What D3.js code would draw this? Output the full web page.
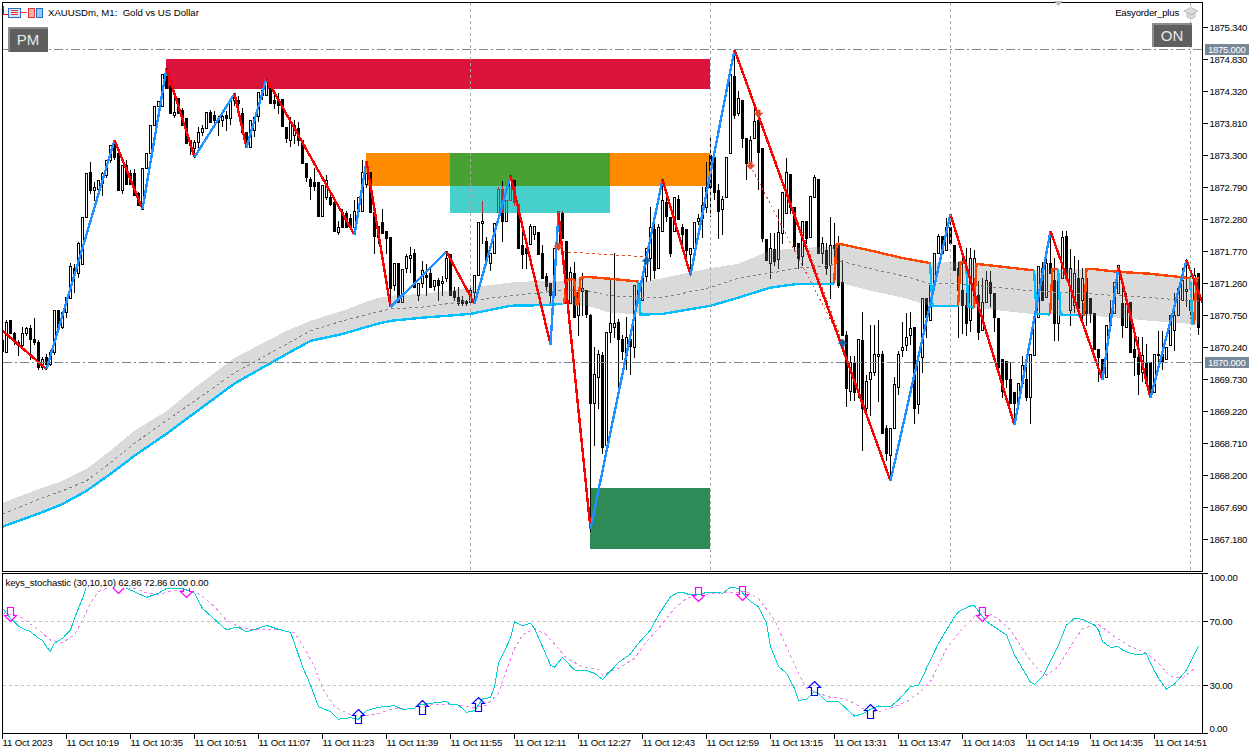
<!DOCTYPE html>
<html><head><meta charset="utf-8">
<style>html,body{margin:0;padding:0;background:#fff;overflow:hidden}svg{display:block}text{font-family:"Liberation Sans",Arial,sans-serif;font-size:9.6px;fill:#000}</style>
<script src="https://d3js.org/d3.v7.min.js"></script>
</head><body>
<svg id="c" width="1260" height="752"></svg>
<script>
// candles: [open, high, low, close]  — one minute each, starting 10:03
const bars1003=[[1870.35,1870.43,1870.11,1870.18],[1870.16,1870.67,1870.16,1870.65],[1870.67,1870.67,1870.46,1870.46],[1870.46,1870.49,1870.30,1870.35],[1870.32,1870.35,1870.11,1870.27],[1870.27,1870.56,1870.24,1870.46],[1870.46,1870.56,1870.43,1870.54],[1870.54,1870.59,1870.06,1870.38],[1870.38,1870.70,1870.30,1870.33],[1870.32,1870.35,1869.90,1869.92],
[1869.92,1870.08,1869.90,1870.06],[1870.08,1870.14,1869.90,1869.97],[1869.97,1870.19,1869.95,1870.16],[1870.16,1870.84,1870.14,1870.84],[1870.84,1870.84,1870.57,1870.57],[1870.56,1870.80,1870.54,1870.80],[1870.80,1871.04,1870.73,1871.04],[1871.02,1871.58,1871.02,1871.53],[1871.51,1871.56,1871.12,1871.43],[1871.42,1871.92,1871.36,1871.90],
[1871.56,1872.31,1871.56,1872.31],[1872.31,1873.01,1872.31,1873.01],[1873.03,1873.19,1872.70,1872.74],[1872.74,1872.87,1872.58,1872.79],[1872.76,1872.90,1872.68,1872.90],[1872.86,1873.03,1872.66,1873.01],[1872.98,1873.22,1872.95,1873.22],[1873.22,1873.46,1873.19,1873.46],[1873.51,1873.55,1873.24,1873.27],[1873.33,1873.38,1872.74,1872.74],
[1872.74,1873.14,1872.70,1873.14],[1873.14,1873.22,1872.85,1872.85],[1873.01,1873.07,1872.85,1872.85],[1873.01,1873.08,1872.66,1872.66],[1872.70,1872.72,1872.50,1872.50],[1872.45,1873.09,1872.45,1873.09],[1873.09,1873.33,1873.09,1873.33],[1873.33,1873.78,1873.33,1873.78],[1873.78,1874.08,1873.78,1874.08],[1874.08,1874.16,1874.08,1874.16],
[1874.08,1874.59,1874.08,1874.59],[1874.65,1874.69,1874.37,1874.37],[1874.41,1874.41,1873.97,1873.97],[1873.94,1874.22,1873.91,1873.99],[1874.22,1874.22,1873.97,1873.97],[1874.02,1874.05,1873.78,1873.78],[1873.90,1873.90,1873.49,1873.49],[1873.54,1873.54,1873.32,1873.46],[1873.41,1873.54,1873.28,1873.51],[1873.51,1873.75,1873.38,1873.67],
[1873.67,1873.78,1873.62,1873.73],[1873.73,1873.99,1873.73,1873.99],[1873.99,1874.02,1873.83,1873.83],[1873.94,1874.00,1873.75,1873.86],[1873.89,1873.92,1873.62,1873.83],[1873.86,1873.95,1873.77,1873.92],[1873.94,1874.00,1873.70,1873.89]];
const bars1100=[[1873.89,1874.18,1873.80,1874.18],[1874.18,1874.29,1874.10,1874.29],[1874.18,1874.25,1874.05,1874.13],[1873.97,1874.05,1873.67,1873.67],[1873.67,1873.67,1873.43,1873.43],[1873.43,1873.86,1873.43,1873.86],[1873.70,1873.91,1873.60,1873.91],[1873.93,1874.31,1873.85,1874.31],[1874.26,1874.34,1874.20,1874.34],[1874.26,1874.53,1874.26,1874.53],
[1874.37,1874.40,1874.14,1874.14],[1874.18,1874.29,1874.06,1874.14],[1874.18,1874.30,1873.97,1874.10],[1874.19,1874.19,1873.76,1873.76],[1873.75,1873.75,1873.51,1873.57],[1873.55,1873.91,1873.45,1873.83],[1873.62,1873.86,1873.49,1873.78],[1873.73,1873.83,1873.46,1873.54],[1873.54,1873.54,1873.17,1873.17],[1873.17,1873.17,1872.89,1872.95],
[1872.93,1872.95,1872.60,1872.81],[1872.87,1873.09,1872.75,1872.81],[1872.87,1872.87,1872.34,1872.34],[1872.34,1872.82,1872.34,1872.82],[1872.63,1872.98,1872.60,1872.90],[1872.63,1872.73,1872.50,1872.53],[1872.55,1872.55,1872.10,1872.10],[1872.07,1872.25,1872.04,1872.15],[1872.39,1872.45,1872.15,1872.15],[1872.38,1872.42,1872.15,1872.15],
[1872.30,1872.36,1872.12,1872.15],[1872.15,1872.58,1872.04,1872.42],[1872.42,1872.63,1872.40,1872.63],[1872.41,1873.22,1872.41,1873.03],[1872.85,1873.01,1872.80,1873.01],[1873.03,1873.03,1872.39,1872.39],[1872.39,1872.39,1871.75,1872.02],[1872.18,1872.18,1871.90,1871.99],[1872.23,1872.44,1872.06,1872.06],[1872.10,1872.10,1871.75,1871.98],
[1871.99,1871.99,1870.94,1871.18],[1871.23,1871.59,1871.15,1871.59],[1871.58,1871.58,1870.96,1870.96],[1870.96,1871.48,1870.96,1871.48],[1871.50,1871.72,1871.44,1871.69],[1871.67,1871.84,1871.44,1871.71],[1871.74,1871.80,1871.20,1871.20],[1871.07,1871.26,1871.00,1871.26],[1871.26,1871.62,1871.20,1871.47],[1871.40,1871.56,1871.07,1871.36],
[1871.42,1871.50,1871.20,1871.20],[1871.21,1871.31,1871.15,1871.31],[1871.32,1871.35,1871.00,1871.23],[1871.26,1871.37,1871.07,1871.29],[1871.34,1871.77,1871.30,1871.67],[1871.72,1871.72,1871.08,1871.08],[1871.13,1871.20,1871.00,1871.04],[1871.04,1871.20,1870.91,1870.94],[1870.99,1871.05,1870.92,1870.94],[1870.97,1871.00,1870.91,1870.94]];
const bars1200=[[1870.96,1871.20,1870.94,1871.16],[1871.12,1871.40,1870.94,1871.40],[1871.40,1872.23,1871.40,1872.23],[1872.22,1872.57,1871.91,1872.25],[1871.94,1872.00,1871.60,1871.63],[1871.59,1871.75,1871.47,1871.75],[1871.74,1872.22,1871.74,1872.22],[1872.39,1872.80,1872.39,1872.76],[1872.77,1872.89,1871.94,1872.26],[1872.26,1872.58,1872.26,1872.58],
[1872.58,1872.98,1872.58,1872.93],[1872.90,1872.90,1872.50,1872.55],[1872.53,1872.53,1871.83,1871.83],[1871.87,1872.18,1871.50,1871.72],[1871.83,1871.90,1871.50,1871.74],[1871.88,1872.20,1871.88,1872.17],[1872.04,1872.17,1871.96,1872.17],[1872.07,1872.07,1871.72,1871.72],[1871.74,1871.87,1871.35,1871.35],[1871.37,1871.42,1871.15,1871.21],
[1871.26,1871.26,1870.94,1871.07],[1871.08,1871.83,1871.08,1871.83],[1871.83,1872.42,1871.83,1872.42],[1872.38,1872.42,1871.98,1871.98],[1871.93,1871.93,1870.94,1870.94],[1870.94,1871.52,1870.94,1871.44],[1871.42,1871.60,1870.72,1870.72],[1870.75,1871.20,1870.43,1871.12],[1871.13,1871.43,1870.75,1871.18],[1871.16,1871.16,1870.73,1870.77],
[1870.75,1870.77,1867.32,1869.35],[1869.36,1870.24,1868.68,1869.81],[1869.76,1870.20,1869.28,1870.14],[1870.11,1870.16,1868.55,1868.65],[1868.68,1870.48,1868.68,1870.48],[1870.49,1871.31,1870.32,1870.62],[1870.57,1871.74,1870.40,1870.62],[1870.65,1870.69,1869.59,1870.37],[1870.38,1870.43,1870.06,1870.18],[1870.11,1870.72,1869.90,1870.40],
[1870.38,1870.45,1869.82,1870.26],[1870.24,1871.24,1870.08,1871.24],[1871.26,1871.30,1870.99,1870.99],[1870.99,1871.35,1870.99,1871.35],[1871.37,1871.83,1871.30,1871.83],[1871.67,1872.47,1871.31,1872.15],[1872.12,1872.20,1871.34,1871.47],[1871.51,1872.20,1871.51,1872.15],[1872.09,1872.92,1872.09,1872.58],[1872.55,1872.65,1872.25,1872.33],
[1872.31,1872.31,1871.70,1871.75],[1872.09,1872.63,1872.09,1872.63],[1872.61,1872.66,1872.28,1872.28],[1872.15,1872.20,1871.90,1872.04],[1872.12,1872.12,1871.70,1871.79],[1871.73,1871.82,1871.40,1871.82],[1871.82,1872.23,1871.82,1872.23],[1872.25,1872.37,1872.20,1872.30],[1872.30,1872.80,1872.00,1872.50],[1872.47,1873.20,1872.40,1872.79]];
const bars1300=[[1873.30,1873.60,1872.34,1872.79],[1873.27,1873.30,1872.60,1872.71],[1872.74,1872.85,1871.98,1872.42],[1872.44,1872.65,1872.05,1872.61],[1872.63,1873.28,1872.63,1873.28],[1873.33,1874.59,1873.33,1874.59],[1874.57,1874.99,1873.89,1873.94],[1873.97,1874.33,1873.95,1874.21],[1874.18,1874.18,1873.44,1873.57],[1873.57,1873.57,1872.93,1873.17],
[1873.20,1873.60,1873.10,1873.55],[1873.57,1874.06,1873.57,1873.84],[1873.86,1873.86,1872.77,1873.36],[1873.41,1873.41,1871.94,1871.98],[1871.96,1871.96,1871.63,1871.63],[1871.59,1872.06,1871.35,1871.82],[1871.80,1872.06,1871.55,1871.61],[1871.64,1872.45,1871.50,1872.07],[1872.06,1872.71,1871.90,1872.71],[1872.38,1873.25,1872.38,1873.03],
[1873.00,1873.00,1872.38,1872.47],[1872.47,1872.47,1871.80,1871.85],[1871.90,1871.90,1871.51,1871.67],[1871.69,1872.26,1871.55,1872.26],[1872.25,1872.25,1871.90,1871.98],[1871.99,1872.65,1871.99,1872.65],[1872.63,1872.98,1872.63,1872.95],[1872.92,1872.92,1871.74,1871.74],[1871.75,1872.00,1871.58,1871.91],[1871.79,1871.91,1871.41,1871.51],
[1871.55,1872.31,1871.02,1871.87],[1871.87,1872.22,1871.47,1871.83],[1871.87,1872.02,1871.20,1871.23],[1871.28,1871.63,1870.43,1870.43],[1870.43,1870.50,1869.31,1869.59],[1869.55,1870.10,1869.40,1870.00],[1870.00,1870.10,1869.40,1869.52],[1869.55,1870.38,1869.45,1870.38],[1870.35,1870.80,1868.60,1869.27],[1869.28,1869.80,1869.20,1869.71],
[1869.74,1870.59,1869.16,1869.84],[1869.84,1870.60,1869.80,1870.14],[1870.10,1870.67,1869.39,1870.13],[1870.14,1870.18,1868.88,1868.88],[1868.95,1869.00,1868.45,1868.55],[1868.52,1868.95,1868.12,1868.95],[1868.96,1869.76,1868.96,1869.65],[1869.60,1870.18,1869.50,1870.14],[1870.19,1870.64,1870.10,1870.25],[1870.27,1870.78,1870.20,1870.41],
[1870.43,1870.80,1870.30,1870.54],[1870.57,1870.57,1869.03,1869.28],[1869.33,1870.02,1869.20,1870.02],[1870.08,1871.02,1869.85,1871.02],[1871.02,1871.02,1870.40,1870.73],[1870.67,1871.30,1870.67,1871.23],[1871.23,1871.74,1871.23,1871.74],[1871.74,1872.05,1871.74,1872.02],[1872.02,1872.02,1871.75,1871.75],[1871.79,1872.30,1871.79,1872.15]];
const bars1400=[[1872.15,1872.37,1871.90,1871.90],[1871.87,1871.87,1871.47,1871.47],[1871.50,1871.60,1870.40,1871.15],[1871.15,1871.75,1870.46,1870.91],[1870.91,1871.82,1870.43,1870.62],[1870.67,1871.82,1870.50,1871.67],[1871.07,1871.79,1870.90,1871.67],[1871.07,1871.30,1870.38,1870.48],[1870.51,1871.34,1870.51,1870.96],[1870.96,1871.45,1870.96,1871.31],
[1871.28,1871.45,1870.90,1871.10],[1871.10,1871.10,1870.50,1870.72],[1870.70,1870.70,1869.92,1869.92],[1870.06,1870.06,1869.45,1869.55],[1870.02,1870.02,1869.60,1869.74],[1869.74,1870.00,1869.36,1869.36],[1869.52,1869.52,1869.01,1869.36],[1869.36,1869.67,1869.36,1869.67],[1869.67,1870.10,1869.67,1869.95],[1869.73,1870.05,1869.40,1869.44],
[1869.44,1870.14,1869.03,1870.14],[1870.11,1870.72,1870.11,1870.72],[1870.72,1871.53,1870.72,1871.53],[1871.51,1871.60,1870.99,1870.99],[1871.04,1871.80,1871.04,1871.58],[1871.59,1872.10,1871.42,1871.42],[1871.31,1871.66,1870.35,1870.62],[1870.62,1871.31,1870.35,1871.31],[1871.34,1872.10,1871.34,1871.99],[1872.01,1872.10,1871.35,1871.35],
[1870.83,1871.80,1870.60,1871.50],[1870.91,1871.70,1870.80,1871.42],[1871.35,1871.63,1870.75,1870.86],[1870.99,1871.50,1870.60,1871.34],[1871.34,1871.45,1870.60,1870.78],[1871.02,1871.02,1870.65,1870.78],[1870.78,1870.78,1870.22,1870.22],[1870.22,1870.22,1869.71,1870.08],[1870.06,1870.06,1869.73,1869.76],[1869.76,1870.59,1869.76,1870.59],
[1870.59,1871.00,1870.59,1870.78],[1870.78,1871.28,1870.78,1871.28],[1871.10,1871.55,1871.10,1871.55],[1870.94,1871.30,1870.40,1870.59],[1870.56,1871.10,1870.56,1870.94],[1870.96,1870.96,1870.16,1870.16],[1870.22,1870.50,1869.80,1870.08],[1870.08,1870.40,1869.50,1869.82],[1869.84,1870.40,1869.70,1870.11],[1870.00,1870.30,1869.67,1869.67],
[1870.00,1870.00,1869.44,1869.47],[1869.52,1870.14,1869.52,1870.14],[1870.13,1870.50,1869.90,1870.14],[1870.14,1870.50,1869.90,1870.00],[1870.06,1870.25,1870.06,1870.25],[1870.27,1870.75,1870.27,1870.75],[1870.51,1871.10,1870.20,1870.75],[1870.75,1871.18,1870.75,1871.18],[1870.99,1871.50,1870.99,1871.31],[1871.13,1871.64,1870.90,1871.17]];
const bars1500=[[1870.99,1871.40,1870.70,1870.83],[1870.99,1871.50,1870.80,1871.39],[1871.42,1871.42,1870.45,1870.56]];
const candles=[...bars1003,...bars1100,...bars1200,...bars1300,...bars1400,...bars1500];

// zigzag swing points
const zigIdx=[0,11,28,35,41,48,58,61,66,88,91,97,111,118,127,137,139,147,165,172,183,222,237,253,262,275,279,287,296,300];
const zigPrice=[1870.51,1869.90,1873.55,1872.45,1874.69,1873.28,1874.29,1873.43,1874.53,1872.04,1873.22,1870.89,1871.77,1870.94,1872.98,1870.29,1872.39,1867.35,1872.92,1871.40,1874.99,1868.12,1872.37,1869.01,1872.10,1869.73,1871.53,1869.44,1871.64,1870.96];

// moving-average channel
const bandIdx=[0,10,15,21,27,33,41,48,58,71,77,85,93,97,105,117,127,135,140,146,152,160,165,177,184,192,199,207,209,217,225,232,239,257,264,272,279,287,297,299];
const bandTop=[1867.77,1868.01,1868.12,1868.31,1868.60,1868.92,1869.23,1869.60,1870.08,1870.51,1870.67,1870.83,1871.02,1871.07,1871.10,1871.20,1871.28,1871.31,1871.31,1871.37,1871.34,1871.29,1871.35,1871.51,1871.58,1871.79,1871.83,1871.85,1871.90,1871.79,1871.67,1871.59,1871.61,1871.48,1871.50,1871.50,1871.45,1871.42,1871.35,1871.35];
const bandMid=[1867.59,1867.85,1867.96,1868.12,1868.41,1868.72,1869.08,1869.39,1869.84,1870.30,1870.51,1870.67,1870.80,1870.86,1870.89,1870.99,1871.07,1871.12,1871.16,1871.15,1871.07,1871.04,1871.04,1871.20,1871.35,1871.43,1871.51,1871.55,1871.63,1871.50,1871.39,1871.26,1871.26,1871.15,1871.12,1871.10,1871.07,1871.04,1870.99,1870.99];
const bandLow=[1867.39,1867.62,1867.75,1867.96,1868.23,1868.52,1868.87,1869.20,1869.67,1870.14,1870.35,1870.46,1870.61,1870.67,1870.72,1870.78,1870.91,1870.92,1870.94,1870.91,1870.80,1870.77,1870.78,1870.91,1871.04,1871.20,1871.26,1871.26,1871.28,1871.15,1871.04,1870.91,1870.91,1870.78,1870.77,1870.75,1870.72,1870.67,1870.62,1870.62];
// channel state: [from bar, to bar, side, colour]
const channelStates=[[0,140,"low","#00BFFF"],[141,143,"up","#FF4500"],[143.5,144,"low","#FF4500"],[144.5,159,"up","#FF4500"],[159.5,208,"low","#00BFFF"],[208.5,232,"up","#FF4500"],[232.5,239,"low","#00BFFF"],[239.5,241,"up","#FF4500"],[241.5,243,"low","#00BFFF"],[243.5,258,"up","#FF4500"],[258.5,262,"low","#00BFFF"],[262.5,264,"up","#FF4500"],[264.5,270,"low","#00BFFF"],[271,297,"up","#FF4500"],[297.5,298,"low","#00BFFF"],[298.5,299,"up","#FF4500"]];

// zones: [from bar, to bar, price high, price low]
const zoneCrimson=[41,177,1874.84,1874.36];
const zoneOrange=[91,177,1873.34,1872.82];
const zoneGreen=[112,152,1873.34,1872.82];
const zoneTurquoise=[112,152,1872.82,1872.39];
const zoneSea=[147,177,1868.00,1867.03];

// trades: [bar, price, bar, price]
const tradeLines=[[140,1871.77,161,1871.69],[187,1873.14,210,1870.32],[189,1873.97,210,1870.32]];
const sellMarks=[[139,1871.85],[187,1873.14],[189,1873.97]];
const buyMarks=[[161,1871.63],[210,1870.32]];

const priceTicks=[1875.34,1874.83,1874.32,1873.81,1873.30,1872.79,1872.28,1871.77,1871.26,1870.75,1870.24,1869.73,1869.22,1868.71,1868.20,1867.69,1867.18];
const levelLines=[1875,1870];
const hourBars=[117,177,237,297];
const timeBars=[0,16,32,48,64,80,96,112,128,144,160,176,192,208,224,240,256,272,288];
const timeLabels=["11 Oct 2023","11 Oct 10:19","11 Oct 10:35","11 Oct 10:51","11 Oct 11:07","11 Oct 11:23","11 Oct 11:39","11 Oct 11:55","11 Oct 12:11","11 Oct 12:27","11 Oct 12:43","11 Oct 12:59","11 Oct 13:15","11 Oct 13:31","11 Oct 13:47","11 Oct 14:03","11 Oct 14:19","11 Oct 14:35","11 Oct 14:51"];

// stochastic
const stochIdx=[0,2,4,5,7,9,10,11,12,13,15,17,18,20,21,24,27,31,33,36,39,41,42,45,48,50,53,56,58,59,61,64,66,69,72,73,75,77,79,82,84,87,89,91,94,98,100,103,104,109,111,112,114,116,118,120,122,123,124,127,128,130,132,133,135,137,138,140,141,143,146,148,150,154,157,159,162,164,167,169,170,172,174,176,179,180,182,184,187,189,191,192,194,196,198,199,201,203,204,206,209,213,215,217,219,222,224,227,229,232,234,238,239,242,243,246,251,253,254,257,258,260,264,266,268,270,273,274,275,277,279,280,282,284,286,287,289,291,293,296,299];
const stochMain=[78.2,72,67.2,65.7,63.6,59.5,58.4,53.9,51.6,56.4,59.5,64.7,72,84.5,91.8,97,98,90.7,88.6,85.1,87.6,90.7,90.7,90.7,87.6,78.2,71.4,64.7,66.3,66.3,63.6,65.7,67.6,65.1,63.2,56.4,41.8,30.3,16.8,13.6,8.9,9.9,8.9,14.3,16.4,17.4,15.1,15.7,17.8,19.5,19.9,18.2,17.8,13.2,14.3,21.8,22.4,29.3,43.9,59.5,69.9,67.4,68.9,65.7,54.3,42.8,41.4,47.6,44.9,39.7,39.3,37.6,33.8,44.3,49.7,56.4,64.7,74.1,85.5,88.2,88.2,86.6,86.6,88.2,88.2,87.6,91.4,90.7,82.4,79.3,68.9,54.3,41.8,37.6,28.2,20.5,21.4,26.1,25.1,19.9,19.9,10.9,12.2,15.1,17.2,16.8,20.9,29.3,30.1,45.9,56.4,73,76.1,79.7,79.7,69.9,61.6,49.1,44.9,32,30.7,35.5,55.3,67.8,72,71.4,67.8,64.7,57.4,53.9,54.3,52.2,50.1,49.1,50.1,43.9,34.5,27.8,30.9,39.7,54.7];
const signalIdx=[0,3,5,9,12,15,18,20,22,24,27,33,36,39,43,46,49,53,56,59,63,66,69,73,75,78,80,83,87,90,94,98,103,104,109,112,115,118,121,124,126,128,130,133,136,139,141,145,149,150,154,158,161,164,168,171,174,178,182,186,189,193,196,199,201,204,207,210,213,216,219,222,226,229,232,236,240,243,246,249,252,256,259,261,264,268,270,274,278,282,286,289,292,295,298];
const signalLine=[75.1,74.1,72,64.7,58.4,56.8,61.6,70.9,81.4,88.6,91.8,90.7,88,87,89.3,89.7,87.6,79.3,70.9,66.8,64.7,65.1,65.1,63,55.3,41.8,28.2,16.8,11.6,10.9,12.6,15.7,15.7,16.8,18.4,18.4,17.4,16.1,17.8,25.1,39.7,53.2,61.6,65.7,61.6,53.2,47,41.8,40.1,36.6,40.7,47,57.4,65.7,78.2,84.5,86.6,87.6,88.2,88.6,84.5,70.9,54.3,37.6,28.2,25.1,22.6,22,18.9,14.3,13.6,15.7,19.9,25.1,32.4,53.2,65.7,73,76.1,71.4,64.7,49.1,39.7,36.6,41.8,58.4,65.7,68.2,60.5,54.3,50.1,43.9,35.5,34.5,40.7];
const stochLevels=[70,30];
const stochTicks=[100,70,30,0];
const upArrows=[[89,15.3],[105,20.9],[119,22.2],[203,32.2],[217,18.4]];
const downArrows=[[2,70.3],[29,87.8],[46,84.7],[174,82.2],[185,83.4],[245,69.7]];

const svg=d3.select("#c");
const X=d3.scaleLinear().domain([0,300]).range([2.5,1202.5]);
const Y=d3.scaleLinear().domain([1875.34,1867.18]).range([27.8,539.8]);
const S=d3.scaleLinear().domain([0,100]).range([733.5,573.5]);
const snap=v=>Math.round(v-0.5)+0.5;
svg.append("rect").attr("width",1260).attr("height",752).attr("fill","#fff");
const defs=svg.append("defs");
defs.append("clipPath").attr("id","mainClip").append("rect").attr("x",3).attr("y",3).attr("width",1199).attr("height",567);
defs.append("clipPath").attr("id","subClip").append("rect").attr("x",3).attr("y",574).attr("width",1199).attr("height",159);
const main=svg.append("g").attr("clip-path","url(#mainClip)");
main.append("rect").attr("x",0).attr("y",0).attr("width",1260).attr("height",600).attr("fill","#fff");

function zone(g,z,fill){return g.append("rect").attr("x",X(z[0])-0.5).attr("width",X(z[1])-X(z[0])).attr("y",Math.round(Y(z[2]))).attr("height",Math.round(Y(z[3]))-Math.round(Y(z[2]))).attr("fill",fill).attr("shape-rendering","crispEdges");}
zone(main,zoneCrimson,"#DC143C");
zone(main,zoneOrange,"#FF8C00");
zone(main,zoneGreen,"#48A233");
zone(main,zoneSea,"#2E8B57");

// candles
const cg=main.append("g").attr("shape-rendering","crispEdges");
candles.forEach((c,i)=>{
  const [o,h,l,cl]=c,x=X(i);
  cg.append("line").attr("x1",x).attr("x2",x).attr("y1",snap(Y(h))-0.5).attr("y2",snap(Y(l))+0.5).attr("stroke","#000");
  const t=snap(Y(Math.max(o,cl))),b=snap(Y(Math.min(o,cl)));
  cg.append("rect").attr("x",x-1).attr("width",2).attr("y",t).attr("height",Math.max(b-t,0.5)).attr("fill",cl>=o?"#fff":"#000").attr("stroke","#000");
});

// channel band, XOR-like over candles
const band=d3.area().x(d=>X(d)).y0((d,i)=>Y(bandLow[i])).y1((d,i)=>Y(bandTop[i]));
main.append("path").attr("d",band(bandIdx)).attr("fill","#252525").style("mix-blend-mode","difference").attr("shape-rendering","crispEdges");
// turquoise zone over candles
zone(main,zoneTurquoise,"#B72E33").style("mix-blend-mode","difference");
main.append("path").attr("d",d3.line().x(d=>X(d)).y((d,i)=>Y(bandMid[i]))(bandIdx)).attr("fill","none").attr("stroke","#808080").attr("stroke-dasharray","3,3").attr("shape-rendering","crispEdges");

const topAt=d3.scaleLinear().domain(bandIdx).range(bandTop),lowAt=d3.scaleLinear().domain(bandIdx).range(bandLow);
channelStates.forEach((s,k)=>{
  const [a,b,side,col]=s,f=side==="up"?topAt:lowAt;
  const pts=[];
  if(k>0)pts.push([a-0.6,channelStates[k-1][2]==="up"?topAt(a-0.6):lowAt(a-0.6)]);
  pts.push([a,f(a)]);
  bandIdx.filter(v=>v>a&&v<b).forEach(v=>pts.push([v,f(v)]));
  pts.push([b,f(b)]);
  main.append("path").attr("d",d3.line().x(d=>X(d[0])).y(d=>Y(d[1]))(pts)).attr("fill","none").attr("stroke",col).attr("stroke-width",2.4).attr("shape-rendering","crispEdges");
});

// hour separators
hourBars.forEach(i=>svg.append("line").attr("x1",X(i)).attr("x2",X(i)).attr("y1",3).attr("y2",571).attr("stroke","#aaa").attr("stroke-dasharray","3,3").attr("shape-rendering","crispEdges"));

// trade lines and marks
tradeLines.forEach((t,k)=>main.append("line").attr("x1",X(t[0])).attr("y1",Y(t[1])).attr("x2",X(t[2])).attr("y2",Y(t[3])).attr("stroke","#E0492A").attr("stroke-dasharray",k===0?"3,3":"2,3").attr("shape-rendering","crispEdges"));

// zigzag
for(let k=0;k<zigIdx.length-1;k++){
  main.append("line").attr("x1",X(zigIdx[k])).attr("y1",Y(zigPrice[k])).attr("x2",X(zigIdx[k+1])).attr("y2",Y(zigPrice[k+1]))
    .attr("stroke",zigPrice[k+1]<zigPrice[k]?"#FF0000":"#1E90FF").attr("stroke-width",2.4).attr("shape-rendering","crispEdges");
}
sellMarks.forEach(m=>main.append("path").attr("transform",`translate(${X(m[0])},${Y(m[1])})`).attr("d","M-2,-4H2V-1H5L0,4L-5,-1H-2Z").attr("fill","#E0492A"));
buyMarks.forEach(m=>main.append("path").attr("transform",`translate(${X(m[0])},${Y(m[1])})`).attr("d","M-2,4H2V1H5L0,-4L-5,1H-2Z").attr("fill","#0F5FA5"));

// level lines
levelLines.forEach(p=>svg.append("line").attr("x1",3).attr("x2",1202).attr("y1",snap(Y(p))).attr("y2",snap(Y(p))).attr("stroke","#778899").attr("stroke-dasharray","9,3,2,3").attr("shape-rendering","crispEdges"));

// frames
[[2.5,2.5,1200,568.5],[2.5,573.5,1200,160]].forEach(r=>svg.append("rect").attr("x",r[0]).attr("y",r[1]).attr("width",r[2]).attr("height",r[3]).attr("fill","none").attr("stroke","#000").attr("shape-rendering","crispEdges"));

// price axis
const ax=d3.axisRight(Y).tickValues(priceTicks).tickFormat(d3.format(".3f")).tickSize(5).tickPadding(2).offset(0);
const ag=svg.append("g").attr("transform","translate(1202.5,0)").call(ax);
ag.select(".domain").remove();
ag.selectAll("line").attr("stroke","#000").attr("shape-rendering","crispEdges");
ag.selectAll("text").attr("dy",null).attr("y",3.5).style("font-family",'"Liberation Sans",Arial,sans-serif').style("font-size","9.6px").attr("fill","#000").attr("letter-spacing","-0.3");
// level tags
levelLines.forEach(p=>{const y=snap(Y(p));
  svg.append("rect").attr("x",1205).attr("y",y-5.5).attr("width",44).attr("height",11).attr("fill","#778899").attr("shape-rendering","crispEdges");
  svg.append("text").attr("x",1208).attr("y",y+3.5).attr("fill","#fff").style("fill","#fff").attr("letter-spacing","-0.3").text(d3.format(".3f")(p));
});

// stochastic pane
const sub=svg.append("g").attr("clip-path","url(#subClip)");
stochLevels.forEach(v=>sub.append("line").attr("x1",3).attr("x2",1202).attr("y1",snap(S(v))).attr("y2",snap(S(v))).attr("stroke","#c0c0c0").attr("stroke-dasharray","3,3").attr("shape-rendering","crispEdges"));
const lineOf=(idx,vals)=>d3.line().x(d=>X(d)).y((d,i)=>S(vals[i]))(idx);
sub.append("path").attr("d",lineOf(signalIdx,signalLine)).attr("fill","none").attr("stroke","#EE82EE").attr("stroke-dasharray","3,3").attr("shape-rendering","crispEdges");
sub.append("path").attr("d",lineOf(stochIdx,stochMain)).attr("fill","none").attr("stroke","#00CED1").attr("shape-rendering","crispEdges");
upArrows.forEach(a=>sub.append("path").attr("transform",`translate(${X(a[0])},${snap(S(a[1]))})`).attr("d","M0,0L6,6H3V14H-3V6H-6Z").attr("fill","none").attr("stroke","#0000FF").attr("stroke-width",1.2));
downArrows.forEach(a=>sub.append("path").attr("transform",`translate(${X(a[0])},${snap(S(a[1]))})`).attr("d","M0,0L6,-6H3V-14H-3V-6H-6Z").attr("fill","none").attr("stroke","#FF00FF").attr("stroke-width",1.2));
svg.append("rect").attr("x",3).attr("y",574).attr("width",207).attr("height",14).attr("fill","#fff");
svg.append("text").attr("x",5.5).attr("y",585.5).attr("letter-spacing","-0.15").text("keys_stochastic (30,10,10) 62.86 72.86 0.00 0.00");

const sax=d3.axisRight(S).tickValues(stochTicks).tickFormat(d3.format(".2f")).tickSize(5).tickPadding(2).offset(0);
const sg=svg.append("g").attr("transform","translate(1202.5,0)").call(sax);
sg.select(".domain").remove();
sg.selectAll("line").attr("stroke","#000").attr("shape-rendering","crispEdges");
sg.selectAll("text").attr("dy",null).attr("y",d=>d===100?7.5:d===0?-2:3.5).style("font-family",'"Liberation Sans",Arial,sans-serif').style("font-size","9.6px").attr("fill","#000").attr("letter-spacing","-0.2");

// time axis
const tax=d3.axisBottom(X).tickValues(timeBars).tickFormat((d,i)=>timeLabels[i]).tickSize(5).tickPadding(3).offset(0);
const tg=svg.append("g").attr("transform","translate(0,733.5)").call(tax);
tg.select(".domain").remove();
tg.selectAll("line").attr("stroke","#000").attr("shape-rendering","crispEdges");
tg.selectAll("text").attr("text-anchor","start").attr("x",0).attr("dy",null).attr("y",12.5).style("font-family",'"Liberation Sans",Arial,sans-serif').style("font-size","9.6px").attr("fill","#000").attr("letter-spacing","-0.15");

// header texts
svg.append("text").attr("x",48).attr("y",16).text("XAUUSDm, M1:  Gold vs US Dollar").style("white-space","pre");
svg.append("text").attr("x",1179).attr("y",16).attr("text-anchor","end").attr("letter-spacing","-0.2").text("Easyorder_plus");

// header icons
const ic=svg.append("g").attr("shape-rendering","crispEdges").attr("fill","none");
ic.append("path").attr("d","M3.5,5.5V14.5H8").attr("stroke","#f00");
ic.append("rect").attr("x",8.5).attr("y",8.5).attr("width",12).attr("height",9).attr("stroke","#1E6FD0").attr("fill","#dbe9fb");
ic.append("path").attr("d","M10.5,10.5H18M10.5,12.5H18M10.5,14.5H18").attr("stroke","#e33");
ic.append("path").attr("d","M20,12H27M28.5,8.5H34.5V17.5H28.5Z").attr("stroke","#e33").attr("fill","#f6b0a8");
ic.append("rect").attr("x",36.5).attr("y",8.5).attr("width",6).attr("height",9).attr("stroke","#1E6FD0").attr("fill","#9cc8ee");
svg.append("path").attr("d","M1054,1H1063L1058.5,6Z").attr("fill","#bbb");
const cap=svg.append("g").attr("fill","#ddd").attr("stroke","#bbb");
cap.append("path").attr("d","M1184,11L1191,7.5L1198,11L1191,14.5Z");
cap.append("path").attr("d","M1187,13V17L1191,19L1195,17V13L1191,15Z");

// buttons
function button(x,y,w,h,t){
  svg.append("rect").attr("x",x).attr("y",y).attr("width",w).attr("height",h).attr("fill","#5f5f5f").attr("shape-rendering","crispEdges");
  svg.append("path").attr("d",`M${x+.5},${y+h}V${y+.5}H${x+w}`).attr("stroke","#8c8c8c").attr("stroke-width",2).attr("fill","none").attr("shape-rendering","crispEdges");
  svg.append("text").attr("x",x+w/2).attr("y",y+h/2+5.5).attr("text-anchor","middle").style("font-size","15px").style("fill","#e8e8e8").text(t);
}
button(8,27,40,25,"PM");
button(1152,23,40,24,"ON");
</script>
</body></html>
